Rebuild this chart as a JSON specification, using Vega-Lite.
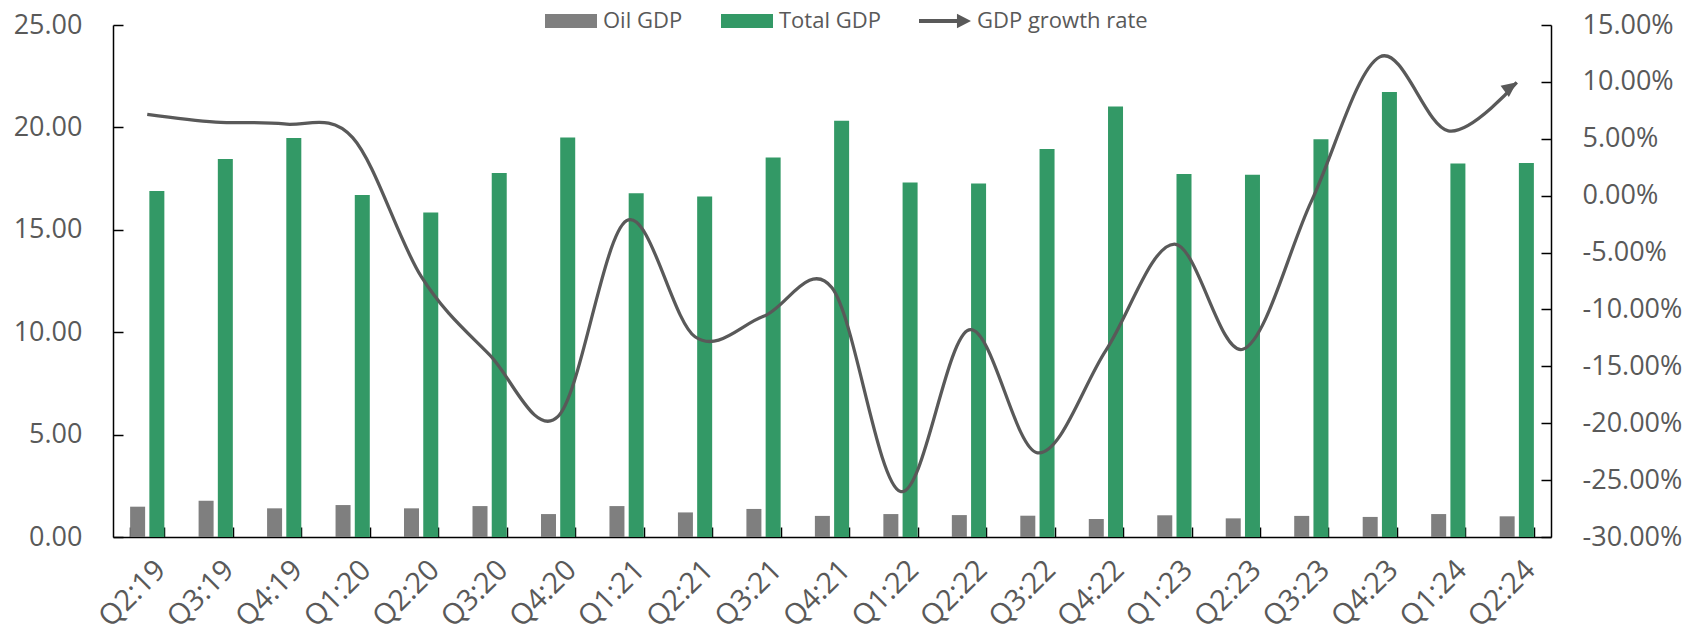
{
  "$schema": "https://vega.github.io/schema/vega-lite/v6.json",
  "autosize": {"type": "none"},
  "padding": {"left": 113, "top": 25, "right": 152, "bottom": 100},
  "width": 1438,
  "height": 512,
  "background": "white",
  "config": {
    "view": {"stroke": null},
    "axis": {
      "domainColor": "#000000",
      "domainWidth": 1.5,
      "tickColor": "#000000",
      "tickWidth": 1.5,
      "labelFont": "Open Sans",
      "labelFontSize": 27,
      "labelColor": "#595959",
      "grid": false,
      "title": null
    }
  },
  "datasets": {
    "bars": [
      {"q": "Q2:19", "series": "Oil GDP", "value": 1.48}, {"q": "Q2:19", "series": "Total GDP", "value": 16.9},
      {"q": "Q3:19", "series": "Oil GDP", "value": 1.77}, {"q": "Q3:19", "series": "Total GDP", "value": 18.46},
      {"q": "Q4:19", "series": "Oil GDP", "value": 1.40}, {"q": "Q4:19", "series": "Total GDP", "value": 19.48},
      {"q": "Q1:20", "series": "Oil GDP", "value": 1.56}, {"q": "Q1:20", "series": "Total GDP", "value": 16.70},
      {"q": "Q2:20", "series": "Oil GDP", "value": 1.40}, {"q": "Q2:20", "series": "Total GDP", "value": 15.85},
      {"q": "Q3:20", "series": "Oil GDP", "value": 1.51}, {"q": "Q3:20", "series": "Total GDP", "value": 17.77},
      {"q": "Q4:20", "series": "Oil GDP", "value": 1.12}, {"q": "Q4:20", "series": "Total GDP", "value": 19.51},
      {"q": "Q1:21", "series": "Oil GDP", "value": 1.51}, {"q": "Q1:21", "series": "Total GDP", "value": 16.78},
      {"q": "Q2:21", "series": "Oil GDP", "value": 1.20}, {"q": "Q2:21", "series": "Total GDP", "value": 16.62},
      {"q": "Q3:21", "series": "Oil GDP", "value": 1.37}, {"q": "Q3:21", "series": "Total GDP", "value": 18.53},
      {"q": "Q4:21", "series": "Oil GDP", "value": 1.03}, {"q": "Q4:21", "series": "Total GDP", "value": 20.33},
      {"q": "Q1:22", "series": "Oil GDP", "value": 1.12}, {"q": "Q1:22", "series": "Total GDP", "value": 17.31},
      {"q": "Q2:22", "series": "Oil GDP", "value": 1.07}, {"q": "Q2:22", "series": "Total GDP", "value": 17.26},
      {"q": "Q3:22", "series": "Oil GDP", "value": 1.04}, {"q": "Q3:22", "series": "Total GDP", "value": 18.95},
      {"q": "Q4:22", "series": "Oil GDP", "value": 0.88}, {"q": "Q4:22", "series": "Total GDP", "value": 21.02},
      {"q": "Q1:23", "series": "Oil GDP", "value": 1.06}, {"q": "Q1:23", "series": "Total GDP", "value": 17.72},
      {"q": "Q2:23", "series": "Oil GDP", "value": 0.91}, {"q": "Q2:23", "series": "Total GDP", "value": 17.69},
      {"q": "Q3:23", "series": "Oil GDP", "value": 1.03}, {"q": "Q3:23", "series": "Total GDP", "value": 19.42},
      {"q": "Q4:23", "series": "Oil GDP", "value": 0.98}, {"q": "Q4:23", "series": "Total GDP", "value": 21.73},
      {"q": "Q1:24", "series": "Oil GDP", "value": 1.12}, {"q": "Q1:24", "series": "Total GDP", "value": 18.24},
      {"q": "Q2:24", "series": "Oil GDP", "value": 1.01}, {"q": "Q2:24", "series": "Total GDP", "value": 18.26}
    ],
    "growth": [
      {"q": "Q2:19", "g": 0.0715}, {"q": "Q3:19", "g": 0.0647}, {"q": "Q4:19", "g": 0.063},
      {"q": "Q1:20", "g": 0.051}, {"q": "Q2:20", "g": -0.071}, {"q": "Q3:20", "g": -0.140},
      {"q": "Q4:20", "g": -0.194}, {"q": "Q1:21", "g": -0.022}, {"q": "Q2:21", "g": -0.124},
      {"q": "Q3:21", "g": -0.106}, {"q": "Q4:21", "g": -0.081}, {"q": "Q1:22", "g": -0.260},
      {"q": "Q2:22", "g": -0.118}, {"q": "Q3:22", "g": -0.226}, {"q": "Q4:22", "g": -0.136},
      {"q": "Q1:23", "g": -0.0425}, {"q": "Q2:23", "g": -0.135}, {"q": "Q3:23", "g": -0.005},
      {"q": "Q4:23", "g": 0.122}, {"q": "Q1:24", "g": 0.057}, {"q": "Q2:24", "g": 0.0996}
    ]
  },
  "layer": [
    {
      "data": {"name": "bars"},
      "mark": {"type": "bar"},
      "encoding": {
        "x": {
          "field": "q", "type": "nominal", "sort": null,
          "scale": {"paddingInner": 0.5, "paddingOuter": 0.25},
          "axis": {
            "orient": "bottom", "tickBand": "extent", "tickSize": -10,
            "labelAngle": -45, "labelAlign": "right", "labelBaseline": "middle",
            "labelFontSize": 29,
            "labelPadding": 38, "labelOffset": 13, "labelOverlap": false
          }
        },
        "xOffset": {
          "field": "series", "type": "nominal", "sort": ["Oil GDP", "Total GDP"],
          "scale": {"paddingInner": 0.22, "paddingOuter": 0}
        },
        "y": {
          "field": "value", "type": "quantitative",
          "scale": {"domain": [0, 25], "nice": false, "zero": true},
          "axis": {"orient": "left", "values": [0, 5, 10, 15, 20, 25], "format": ".2f", "tickSize": -10, "labelPadding": 41}
        },
        "color": {
          "field": "series", "type": "nominal",
          "scale": {"domain": ["Oil GDP", "Total GDP", "GDP growth rate"], "range": ["#7f7f7f", "#339966", "#595959"]},
          "legend": {
            "orient": "none", "legendX": 432, "legendY": -30, "direction": "horizontal", "columns": 3,
            "title": null, "padding": 0,
            "symbolSize": 2704, "symbolType": "M-1,-0.27L1,-0.27L1,0.27L-1,0.27Z",
            "symbolStrokeWidth": 0, "symbolOpacity": 1,
            "labelFont": "Open Sans", "labelFontSize": 22, "labelColor": "#595959", "labelLimit": 400,
            "labelOffset": 6, "columnPadding": 38,
            "encode": {
              "symbols": {
                "update": {
                  "shape": {"signal": "datum.value === 'GDP growth rate' ? 'M-1,-0.08L0.46,-0.08L0.46,-0.28L1,0L0.46,0.28L0.46,0.08L-1,0.08Z' : 'M-1,-0.27L1,-0.27L1,0.27L-1,0.27Z'"},
                  "fill": {"signal": "scale('color', datum.value)"},
                  "stroke": {"value": "transparent"}
                }
              }
            }
          }
        }
      }
    },
    {
      "data": {"name": "growth"},
      "encoding": {
        "x": {"field": "q", "type": "nominal", "sort": null},
        "y": {
          "field": "g", "type": "quantitative",
          "scale": {"domain": [-0.30, 0.15], "nice": false, "zero": false},
          "axis": {
            "orient": "right",
            "values": [-0.30, -0.25, -0.20, -0.15, -0.10, -0.05, 0, 0.05, 0.10, 0.15],
            "labelExpr": "replace(format(datum.value, '.2%'), '−', '-')",
            "tickSize": -10, "labelPadding": 41
          }
        }
      },
      "layer": [
        {
          "mark": {"type": "line", "interpolate": "cardinal", "strokeWidth": 3.25, "strokeCap": "butt"},
          "encoding": {"color": {"datum": "GDP growth rate"}}
        },
        {
          "transform": [{"filter": "datum.q === 'Q2:24'"}],
          "mark": {"type": "point", "shape": "M0,0L-2,-0.93L-2,0.93Z", "filled": true, "size": 225, "angle": 323.4, "color": "#595959", "opacity": 1, "strokeWidth": 0}
        }
      ]
    }
  ],
  "resolve": {"scale": {"y": "independent"}}
}
